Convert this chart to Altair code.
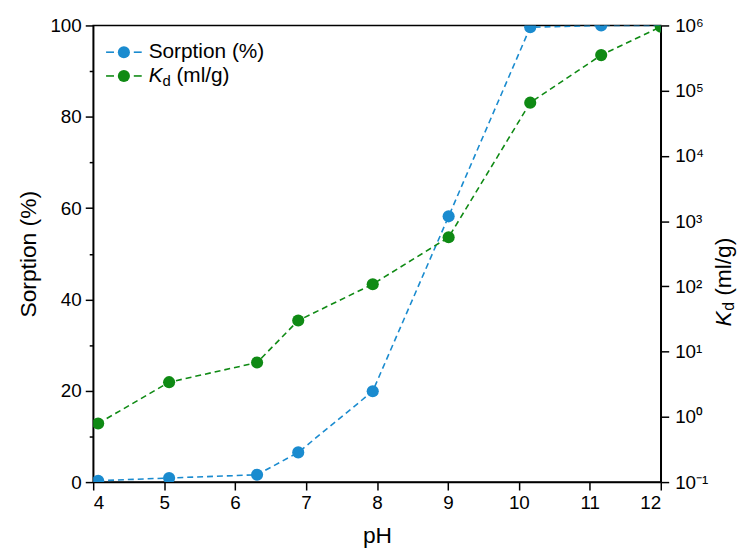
import altair as alt
import pandas as pd

# ---- data ----
ph = [4.07, 5.07, 6.31, 6.89, 7.94, 9.01, 10.16, 11.16, 12.0]
sorption = [0.3, 0.9, 1.6, 6.5, 19.9, 58.2, 99.6, 100.0, 100.0]
kd = [0.79, 3.4, 6.8, 30.0, 108.0, 566.0, 65500.0, 351000.0, 955000.0]

x_ticks = [4, 5, 6, 7, 8, 9, 10, 11, 12]
left_ticks = [0, 10, 20, 30, 40, 50, 60, 70, 80, 90, 100]
right_ticks = [0.1, 1, 10, 100, 1000, 10000, 100000, 1000000]

BLUE = "#1a8bcf"
GREEN = "#0f8a14"
FONT = "Liberation Sans"

df = pd.DataFrame({"ph": ph, "sorption": sorption, "kd": kd})

W, H = 573, 461

xenc = alt.X(
    "ph:Q",
    scale=alt.Scale(domain=[4, 12], nice=False, zero=False),
    axis=alt.Axis(
        values=x_ticks, title="pH", format="d", tickSize=8, labelPadding=4,
        titlePadding=12, grid=False,
    ),
)

left_axis = alt.Axis(
    values=left_ticks,
    labelExpr="datum.value % 20 == 0 ? datum.label : ''",
    tickSize={"condition": {"test": "datum.value % 20 == 0", "value": 8}, "value": 4},
    title="Sorption (%)", titlePadding=10, labelPadding=4, grid=False, orient="left",
)

right_axis = alt.Axis(
    values=right_ticks,
    labelExpr="'10' + ['⁻¹','⁰','¹','²','³','⁴','⁵','⁶'][round(log(datum.value)/LN10) + 1]",
    title=None, tickSize=8, labelPadding=6, grid=False, orient="right",
)

base = alt.Chart(df)

sorp_line = base.mark_line(color=BLUE, strokeDash=[6, 4], strokeWidth=1.6, clip=True).encode(
    x=xenc, y=alt.Y("sorption:Q", scale=alt.Scale(domain=[0, 100], nice=False), axis=left_axis)
)
sorp_pts = base.mark_circle(color=BLUE, size=150, opacity=1, clip=True).encode(
    x="ph:Q", y="sorption:Q"
)
left = alt.layer(sorp_line, sorp_pts)

kd_line = base.mark_line(color=GREEN, strokeDash=[6, 4], strokeWidth=1.6, clip=True).encode(
    x="ph:Q",
    y=alt.Y("kd:Q", scale=alt.Scale(type="log", domain=[0.1, 1e6], nice=False), axis=right_axis),
)
kd_pts = base.mark_circle(color=GREEN, size=150, opacity=1, clip=True).encode(x="ph:Q", y="kd:Q")
right = alt.layer(kd_line, kd_pts)

# ---- manual legend (italic K with subscript d) ----
one = pd.DataFrame({"k": [0]})
leg = alt.Chart(one)
r1y, r2y = 27, 51
legend_layers = []
for yy, col in [(r1y, BLUE), (r2y, GREEN)]:
    legend_layers.append(leg.mark_rule(color=col, strokeWidth=1.6).encode(
        x=alt.value(13), x2=alt.value(21), y=alt.value(yy)))
    legend_layers.append(leg.mark_rule(color=col, strokeWidth=1.6).encode(
        x=alt.value(41), x2=alt.value(49), y=alt.value(yy)))
    legend_layers.append(leg.mark_circle(color=col, size=150, opacity=1).encode(
        x=alt.value(31), y=alt.value(yy)))
legend_layers.append(leg.mark_text(text="Sorption (%)", font=FONT, fontSize=21, align="left",
                                   baseline="middle", color="black").encode(
    x=alt.value(56), y=alt.value(r1y)))
legend_layers.append(leg.mark_text(text="K", font=FONT, fontSize=21, fontStyle="italic", align="left",
                                   baseline="middle", color="black").encode(
    x=alt.value(56), y=alt.value(r2y)))
legend_layers.append(leg.mark_text(text="d", font=FONT, fontSize=15, align="left",
                                   baseline="middle", color="black").encode(
    x=alt.value(70), y=alt.value(r2y + 5)))
legend_layers.append(leg.mark_text(text="(ml/g)", font=FONT, fontSize=21, align="left",
                                   baseline="middle", color="black").encode(
    x=alt.value(84), y=alt.value(r2y)))

# ---- right axis title, rotated ----
tx = 637
ty = 304
title_layers = [
    leg.mark_text(text="K", font=FONT, fontSize=23, fontStyle="italic", angle=270, align="left",
                  baseline="middle", color="black").encode(x=alt.value(tx), y=alt.value(ty)),
    leg.mark_text(text="d", font=FONT, fontSize=16, angle=270, align="left",
                  baseline="middle", color="black").encode(x=alt.value(tx + 5), y=alt.value(ty - 16)),
    leg.mark_text(text="(ml/g)", font=FONT, fontSize=23, angle=270, align="left",
                  baseline="middle", color="black").encode(x=alt.value(tx), y=alt.value(ty - 31)),
]

overlay = alt.layer(*legend_layers, *title_layers)

chart = (
    alt.layer(left, right, overlay)
    .resolve_scale(y="independent")
    .properties(
        width=W, height=H,
        autosize=alt.AutoSizeParams(type="none"),
        padding={"left": 86, "top": 15, "right": 82, "bottom": 72},
    )
    .configure_view(stroke="black", strokeWidth=1.5)
    .configure_axis(
        domainColor="black", domainWidth=1.5, tickColor="black", tickWidth=1.5,
        labelFont=FONT, titleFont=FONT, labelFontSize=19, titleFontSize=23,
        labelColor="black", titleColor="black", titleFontWeight="normal",
    )
)

chart.save("out.html", embed_options={"renderer": "svg", "actions": False})
